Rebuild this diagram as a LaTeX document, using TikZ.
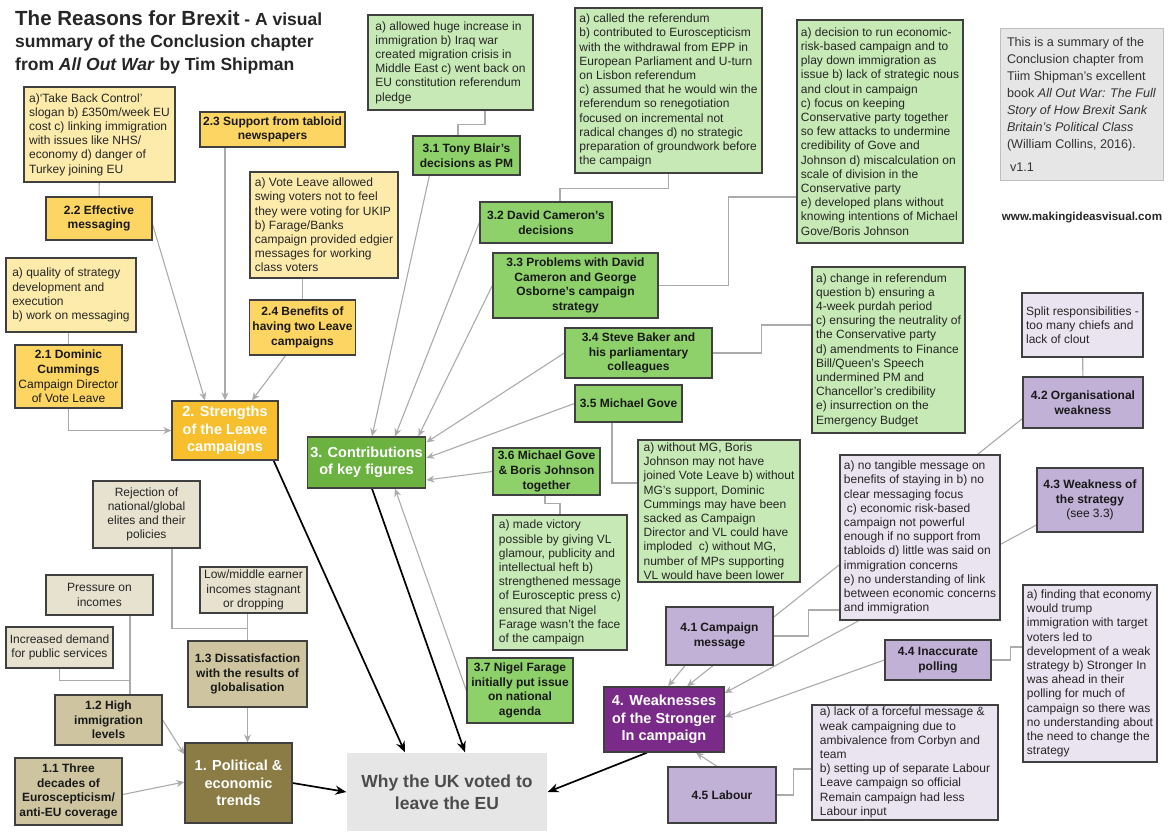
\documentclass[tikz,border=0pt]{standalone}
\usepackage{fontspec}
\setmainfont{Liberation Sans}
\usetikzlibrary{arrows.meta,backgrounds,calc}

\definecolor{edge}{HTML}{404040}
\definecolor{wire}{HTML}{ABABAB}
\definecolor{ylight}{HTML}{FCEBAA}
\definecolor{ymid}{HTML}{FDD562}
\definecolor{ydark}{HTML}{F7BF2E}
\definecolor{glight}{HTML}{C6E9B5}
\definecolor{gmid}{HTML}{8ED16B}
\definecolor{gdark}{HTML}{6BB241}
\definecolor{plight}{HTML}{EAE4F1}
\definecolor{pmid}{HTML}{C1B1D6}
\definecolor{pdark}{HTML}{7A2B8A}
\definecolor{tlight}{HTML}{E6E2CF}
\definecolor{tmid}{HTML}{CEC5A0}
\definecolor{tdark}{HTML}{8B7C46}
\definecolor{greybox}{HTML}{E6E6E6}

\tikzset{
  box/.style={draw=edge, line width=1.3pt, rectangle, inner xsep=3pt, inner ysep=2pt},
  note/.style={box, fill=#1, align=left, text=black!85, font=\fontsize{12}{14.2}\selectfont},
  topic/.style={box, fill=#1, align=center, text=black!90, font=\bfseries\fontsize{12}{14.6}\selectfont},
  theme/.style={box, fill=#1, align=center, text=white, font=\bfseries\fontsize{14.5}{17.5}\selectfont},
  link/.style={draw=wire, line width=1.1pt},
  feed/.style={link, -{Stealth[length=8pt,width=7pt]}},
  cause/.style={draw=black, line width=1.7pt, -{Stealth[length=11pt,width=9pt]}},
}

\begin{document}
\begin{tikzpicture}[x=1pt,y=-1pt]
  \useasboundingbox (0,0) rectangle (1168,831);

  \node[anchor=north west, inner sep=0pt, align=left, text=black!85,
        font=\bfseries\fontsize{17.5}{22.5}\selectfont] (title) at (15,10)
    {{\fontsize{20.5}{22.5}\selectfont The Reasons for Brexit} - A visual\\summary of the Conclusion chapter\\from \textit{All Out War} by Tim Shipman};

  \node[box, draw=black!25, line width=1pt, fill=greybox, align=left, text=black!80,
        font=\fontsize{12.6}{17}\selectfont, minimum width=163pt, minimum height=152pt] (info) at (1081.5,104)
    {This is a summary of the\\Conclusion chapter from\\Tiim Shipman's excellent\\book \textit{All Out War: The Full}\\\textit{Story of How Brexit Sank}\\\textit{Britain's Political Class}\\(William Collins, 2016).\\[6pt]\hspace{3pt}v1.1};
  \node[font=\bfseries\fontsize{11.6}{14}\selectfont, text=black!85] (web) at (1082,218) {www.makingideasvisual.com};

  \node[box, draw=none, fill=greybox, text=black!70, align=center,
        font=\bfseries\fontsize{17.5}{22}\selectfont, minimum width=200pt, minimum height=78pt] (why) at (447,792)
    {Why the UK voted to\\leave the EU};

  \node[note=ylight, minimum width=151pt, minimum height=95pt] (t22) at (99.5,134.5)
    {a)‘Take Back Control’\\slogan b) £350m/week EU\\cost c) linking immigration\\with issues like NHS/\\economy d) danger of\\Turkey joining EU};
  \node[topic=ymid, minimum width=106pt, minimum height=43pt] (n22) at (99,218.5) {2.2 Effective\\messaging};
  \node[topic=ymid, minimum width=145pt, minimum height=35pt] (n23) at (272.5,129.5) {2.3 Support from tabloid\\newspapers};
  \node[note=ylight, minimum width=148pt, minimum height=106pt] (t24) at (324,225)
    {a) Vote Leave allowed\\swing voters not to feel\\they were voting for UKIP\\b) Farage/Banks\\campaign provided edgier\\messages for working\\class voters};
  \node[topic=ymid, minimum width=105pt, minimum height=55pt] (n24) at (302.5,327.5) {2.4 Benefits of\\having two Leave\\campaigns};
  \node[note=ylight, minimum width=130pt, minimum height=74pt] (t21) at (71,295)
    {a) quality of strategy\\development and\\execution\\b) work on messaging};
  \node[topic=ymid, minimum width=107pt, minimum height=63pt] (n21) at (68.5,376.5)
    {2.1 Dominic\\Cummings\\{\mdseries Campaign Director}\\{\mdseries of Vote Leave}};
  \node[theme=ydark, minimum width=106pt, minimum height=59pt] (n2) at (225,430.5) {2. Strengths\\of the Leave\\campaigns};

  \node[note=glight, minimum width=165pt, minimum height=95pt] (t31) at (450.5,62.5)
    {a) allowed huge increase in\\immigration b) Iraq war\\created migration crisis in\\Middle East c) went back on\\EU constitution referendum\\pledge};
  \node[topic=gmid, minimum width=107pt, minimum height=39pt] (n31) at (466.5,155.5) {3.1 Tony Blair's\\decisions as PM};
  \node[note=glight, minimum width=187pt, minimum height=165pt] (t32) at (668.5,90.5)
    {a) called the referendum\\b) contributed to Euroscepticism\\with the withdrawal from EPP in\\European Parliament and U-turn\\on Lisbon referendum\\c) assumed that he would win the\\referendum so renegotiation\\focused on incremental not\\radical changes d) no strategic\\preparation of groundwork before\\the campaign};
  \node[topic=gmid, minimum width=132pt, minimum height=41pt] (n32) at (546,222.5) {3.2 David Cameron's\\decisions};
  \node[note=glight, minimum width=166pt, minimum height=223pt] (t33) at (880,131.5)
    {a) decision to run economic-\\risk-based campaign and to\\play down immigration as\\issue b) lack of strategic nous\\and clout in campaign\\c) focus on keeping\\Conservative party together\\so few attacks to undermine\\credibility of Gove and\\Johnson d) miscalculation on\\scale of division in the\\Conservative party\\e) developed plans without\\knowing intentions of Michael\\Gove/Boris Johnson};
  \node[topic=gmid, minimum width=165pt, minimum height=65pt] (n33) at (575.5,285.5)
    {3.3 Problems with David\\Cameron and George\\Osborne's campaign\\strategy};
  \node[note=glight, minimum width=153pt, minimum height=166pt] (t34) at (888.5,350)
    {a) change in referendum\\question b) ensuring a\\4-week purdah period\\c) ensuring the neutrality of\\the Conservative party\\d) amendments to Finance\\Bill/Queen's Speech\\undermined PM and\\Chancellor's credibility\\e) insurrection on the\\Emergency Budget};
  \node[topic=gmid, minimum width=147pt, minimum height=50pt] (n34) at (638.5,353)
    {3.4 Steve Baker and\\his parliamentary\\colleagues};
  \node[topic=gmid, minimum width=107pt, minimum height=37pt] (n35) at (628.5,403.5) {3.5 Michael Gove};
  \node[note=glight, minimum width=162pt, minimum height=142pt] (t35) at (719,511)
    {a) without MG, Boris\\Johnson may not have\\joined Vote Leave b) without\\MG's support, Dominic\\Cummings may have been\\sacked as Campaign\\Director and VL could have\\imploded\ \ c) without MG,\\number of MPs supporting\\VL would have been lower};
  \node[topic=gmid, minimum width=107pt, minimum height=47pt] (n36) at (546.5,471.5)
    {3.6 Michael Gove\\\& Boris Johnson\\together};
  \node[note=glight, minimum width=134pt, minimum height=135pt] (t36) at (560,582.5)
    {a) made victory\\possible by giving VL\\glamour, publicity and\\intellectual heft b)\\strengthened message\\of Eurosceptic press c)\\ensured that Nigel\\Farage wasn't the face\\of the campaign};
  \node[topic=gmid, minimum width=106pt, minimum height=65pt] (n37) at (520,690.5)
    {3.7 Nigel Farage\\initially put issue\\on national\\agenda};
  \node[theme=gdark, minimum width=117pt, minimum height=51pt] (n3) at (366.5,462.5) {3. Contributions\\of key figures};

  \node[note=plight, minimum width=121pt, minimum height=64pt] (t42) at (1082.5,325)
    {Split responsibilities -\\too many chiefs and\\lack of clout};
  \node[topic=pmid, minimum width=120pt, minimum height=51pt] (n42) at (1083,402.5) {4.2 Organisational\\weakness};
  \node[note=plight, minimum width=160pt, minimum height=165pt] (t41) at (920,537.5)
    {a) no tangible message on\\benefits of staying in b) no\\clear messaging focus\\\hspace{3pt}c) economic risk-based\\campaign not powerful\\enough if no support from\\tabloids d) little was said on\\immigration concerns\\e) no understanding of link\\between economic concerns\\and immigration};
  \node[topic=pmid, minimum width=106pt, minimum height=64pt] (n43) at (1090,500)
    {4.3 Weakness of\\the strategy\\{\mdseries (see 3.3)}};
  \node[topic=pmid, minimum width=107pt, minimum height=58pt] (n41) at (719.5,636) {4.1 Campaign\\message};
  \node[topic=pmid, minimum width=106pt, minimum height=40pt] (n44) at (938,660) {4.4 Inaccurate\\polling};
  \node[note=plight, minimum width=134pt, minimum height=177pt] (t44) at (1090,673.5)
    {a) finding that economy\\would trump\\immigration with target\\voters led to\\development of a weak\\strategy b) Stronger In\\was ahead in their\\polling for much of\\campaign so there was\\no understanding about\\the need to change the\\strategy};
  \node[theme=pdark, minimum width=120pt, minimum height=65pt] (n4) at (664,719.5)
    {4. Weaknesses\\of the Stronger\\In campaign};
  \node[topic=pmid, minimum width=108pt, minimum height=56pt] (n45) at (722,795) {4.5 Labour};
  \node[note=plight, minimum width=186pt, minimum height=115pt] (t45) at (905,762.5)
    {a) lack of a forceful message \&\\weak campaigning due to\\ambivalence from Corbyn and\\team\\b) setting up of separate Labour\\Leave campaign so official\\Remain campaign had less\\Labour input};

  \node[note=tlight, align=center, minimum width=107pt, minimum height=67pt] (t13a) at (146.5,514.5)
    {Rejection of\\national/global\\elites and their\\policies};
  \node[note=tlight, align=center, minimum width=107pt, minimum height=46pt] (t13b) at (253.5,590)
    {Low/middle earner\\incomes stagnant\\or dropping};
  \node[note=tlight, align=center, minimum width=107pt, minimum height=40pt] (t12a) at (99.5,595)
    {Pressure on\\incomes};
  \node[note=tlight, align=center, minimum width=107pt, minimum height=41pt] (t12b) at (59.5,647.5)
    {Increased demand\\for public services};
  \node[topic=tmid, minimum width=119pt, minimum height=66pt] (n13) at (247.5,674)
    {1.3 Dissatisfaction\\with the results of\\globalisation};
  \node[topic=tmid, minimum width=107pt, minimum height=50pt] (n12) at (108.5,720)
    {1.2 High\\immigration\\levels};
  \node[topic=tmid, minimum width=107pt, minimum height=67pt] (n11) at (68.5,791.5)
    {1.1 Three\\decades of\\Euroscepticism/\\anti-EU coverage};
  \node[theme=tdark, minimum width=107pt, minimum height=80pt] (n1) at (238.5,783)
    {1. Political \&\\economic\\trends};

  \coordinate (j13) at ($(n13.north)+(0,-12)$);
  \coordinate (j12) at ($([xshift=21.5pt]n12.north)+(0,-14)$);

  \begin{pgfonlayer}{background}
    \fill[white] (0,0) rectangle (1168,831);

    \draw[link] (t22) -- (n22);
    \draw[link] (n24.north) -- (n24.north |- t24.south);
    \draw[link] (n21.north) -- (n21.north |- t21.south);
    \draw[feed] (n21.south) |- (n2.west);
    \draw[feed] ([yshift=-6pt]n22.east) -- ([xshift=-20pt]n2.north);
    \draw[feed] (n23.south -| n2.north) -- (n2.north);
    \draw[feed] ([xshift=-17pt]n24.south) -- ([xshift=27pt]n2.north);

    \draw[link] ([xshift=34.5pt]t31.south) -- ++(0,14) -| ([xshift=-8.5pt]n31.north);
    \draw[link] (t32.south) -- ++(0,15) -| ([xshift=14pt]n32.north);
    \draw[link] (n33.east) -- ++(70,0) |- ([yshift=-65.5pt]t33.west);
    \draw[link] (n34.east) -- ++(49,0) |- ([yshift=25pt]t34.west);
    \draw[link] ([xshift=-16.5pt]n35.south) |- ([yshift=28pt]t35.west);
    \draw[link] ([xshift=-1.5pt]n36.south) -- ++(0,8) -| (t36.north);
    \draw[feed] ([xshift=17pt]n31.south west) -- ([xshift=5.5pt]n3.north);
    \draw[feed] (n32.west) -- ([xshift=28.5pt]n3.north);
    \draw[feed] (n33.west) -- ([xshift=-8pt]n3.north east);
    \draw[feed] (n34.west) -- ([yshift=-6pt]n3.north east);
    \draw[feed] (n35.west) -- ([yshift=4.5pt]n3.east);
    \draw[feed] (n36.west) -- ([yshift=-17.5pt]n3.east);
    \draw[feed] (n37.west) -- ([xshift=28.5pt]n3.south);

    \draw[link] (t42) -- (n42);
    \draw[link] (n41.east) -- ++(35,0) |- ([yshift=-72.5pt]t41.west);
    \draw[link] (n44.east) -- ++(19,0) |- ([yshift=26.5pt]t44.west);
    \draw[link] (n45.east) -- ++(17,0) |- ([yshift=-6.5pt]t45.west);
    \draw[feed] ([yshift=10pt]n42.south west) -- ([xshift=23pt]n4.north);
    \draw[feed] ([xshift=-34.5pt]n41.south) -- ([xshift=4pt]n4.north);
    \draw[feed] ([yshift=-25pt]n43.west) -- ([yshift=26.5pt]n4.east);
    \draw[feed] (n44.west) -- ([yshift=2.5pt]n4.east);
    \draw[feed] ([xshift=-5pt]n45.north) -- ([xshift=32pt]n4.south);

    \draw[link] (n13.north) -- (n13.north |- t13b.south);
    \draw[link] ([xshift=25.5pt]t13a.south) |- (j13);
    \draw[link] ([xshift=30.5pt]t12a.south) -- ([xshift=21.5pt]n12.north);
    \draw[link] (t12b.south) |- (j12);
    \draw[feed] (n13.south) -- (n13.south |- n1.north);
    \draw[feed] (n12.east) -- ([yshift=-12pt]n1.north west);
    \draw[feed] ([yshift=-3pt]n11.east) -- ([yshift=1pt]n1.west);

    \draw[cause] (n1.east) -- (why.west);
    \draw[cause] ([xshift=-5pt]n2.south east) -- ([xshift=-42pt]why.north);
    \draw[cause] ([xshift=5.5pt]n3.south) -- ([xshift=18pt]why.north);
    \draw[cause] ([xshift=-17pt]n4.south) -- (why.east);
  \end{pgfonlayer}
\end{tikzpicture}
\end{document}
